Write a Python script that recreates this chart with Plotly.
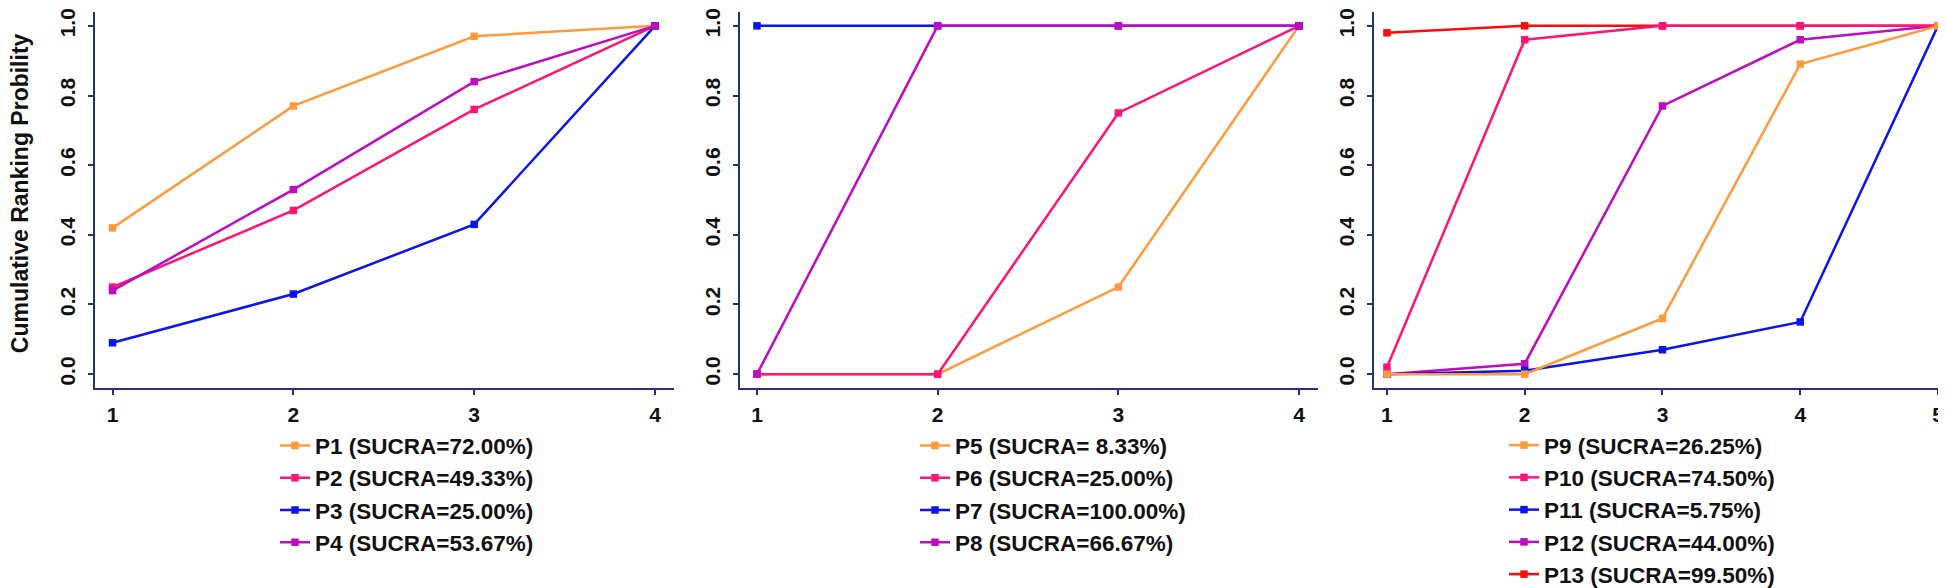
import plotly.graph_objects as go

# ---- data ----
ranks_a = [1, 2, 3, 4]
ranks_b = [1, 2, 3, 4]
ranks_c = [1, 2, 3, 4, 5]

names_a = ["P1 (SUCRA=72.00%)", "P2 (SUCRA=49.33%)", "P3 (SUCRA=25.00%)", "P4 (SUCRA=53.67%)"]
names_b = ["P5 (SUCRA= 8.33%)", "P6 (SUCRA=25.00%)", "P7 (SUCRA=100.00%)", "P8 (SUCRA=66.67%)"]
names_c = ["P9 (SUCRA=26.25%)", "P10 (SUCRA=74.50%)", "P11 (SUCRA=5.75%)",
           "P12 (SUCRA=44.00%)", "P13 (SUCRA=99.50%)"]

p1 = [0.42, 0.77, 0.97, 1.00]
p2 = [0.25, 0.47, 0.76, 1.00]
p3 = [0.09, 0.23, 0.43, 1.00]
p4 = [0.24, 0.53, 0.84, 1.00]

p5 = [0.00, 0.00, 0.25, 1.00]
p6 = [0.00, 0.00, 0.75, 1.00]
p7 = [1.00, 1.00, 1.00, 1.00]
p8 = [0.00, 1.00, 1.00, 1.00]

p9 = [0.00, 0.00, 0.16, 0.89, 1.00]
p10 = [0.02, 0.96, 1.00, 1.00, 1.00]
p11 = [0.00, 0.01, 0.07, 0.15, 1.00]
p12 = [0.00, 0.03, 0.77, 0.96, 1.00]
p13 = [0.98, 1.00, 1.00, 1.00, 1.00]

y_ticks = [0.0, 0.2, 0.4, 0.6, 0.8, 1.0]
y_title = "Cumulative Ranking Probility"

# ---- style ----
ORANGE = "#FF9A3C"
PINK = "#FF1476"
BLUE = "#0A14F0"
MAGENTA = "#BE0CC0"
RED = "#FF0A0A"
AXIS = "#283278"
FONT = "Liberation Sans, Arial, sans-serif"

W, H = 1946, 588

fig = go.Figure()

def add(xs, ys, name, color, xa, ya, legend, rank):
    fig.add_trace(go.Scatter(
        x=xs, y=ys, name=name, mode="lines+markers",
        line=dict(color=color, width=2.5),
        marker=dict(symbol="square", size=7.5, color=color),
        xaxis=xa, yaxis=ya, legend=legend, legendrank=rank,
    ))

colors4 = [ORANGE, PINK, BLUE, MAGENTA]
for i, (ys, nm) in enumerate(zip([p1, p2, p3, p4], names_a)):
    add(ranks_a, ys, nm, colors4[i], "x", "y", "legend", i + 1)
for i, (ys, nm) in enumerate(zip([p5, p6, p7, p8], names_b)):
    add(ranks_b, ys, nm, colors4[i], "x2", "y2", "legend2", i + 1)
colors5 = [ORANGE, PINK, BLUE, MAGENTA, RED]
series_c = [p9, p10, p11, p12, p13]
for i in reversed(range(5)):
    add(ranks_c, series_c[i], names_c[i], colors5[i], "x3", "y3", "legend3", i + 1)

ydom = [(H - 388) / H, (H - 4) / H]
xdoms = [[87 / W, 666 / W], [732 / W, 1310 / W], [1366 / W, 1945 / W]]
xranges = [[0.903, 4.105], [0.906, 4.105], [0.906, 5.109]]
xticks = [ranks_a, ranks_b, ranks_c]

tickfont = dict(family=FONT, size=21, color="#111111", weight="bold")
layout = dict(
    width=W, height=H,
    margin=dict(l=0, r=0, t=0, b=0),
    paper_bgcolor="white", plot_bgcolor="white",
    font=dict(family=FONT, size=20, color="#111111"),
)
for k in range(3):
    sx = "" if k == 0 else str(k + 1)
    layout["xaxis" + sx] = dict(
        domain=xdoms[k], range=xranges[k], anchor="y" + sx,
        tickmode="array", tickvals=xticks[k], ticktext=[str(v) for v in xticks[k]],
        showline=True, linecolor=AXIS, linewidth=2, mirror=False,
        ticks="outside", ticklen=5, tickwidth=1.5, tickcolor=AXIS,
        showgrid=False, zeroline=False, tickfont=tickfont, automargin=False,
        ticklabeloverflow="allow", ticklabelstandoff=2,
    )
    layout["yaxis" + sx] = dict(
        domain=ydom, range=[-0.04, 1.04], anchor="x" + sx,
        tickmode="array", tickvals=y_ticks, ticktext=[f"{v:.1f}" for v in y_ticks],
        tickangle=-90,
        showline=True, linecolor=AXIS, linewidth=2, mirror=False,
        ticks="outside", ticklen=5, tickwidth=1.5, tickcolor=AXIS,
        showgrid=False, zeroline=False, tickfont=tickfont, automargin=False,
        ticklabeloverflow="allow", ticklabelstandoff=5,
    )

legfont = dict(family=FONT, size=22.5, color="#111111", weight="bold")
leg_common = dict(font=legfont, bgcolor="rgba(0,0,0,0)", itemwidth=30,
                  tracegroupgap=0, xanchor="left", yanchor="top",
                  itemclick=False, itemdoubleclick=False)
leg_top = (H - 425) / H
layout["legend"] = dict(x=267 / W, y=leg_top, **leg_common)
layout["legend2"] = dict(x=907 / W, y=leg_top, **leg_common)
layout["legend3"] = dict(x=1496 / W, y=leg_top, **leg_common)
layout["showlegend"] = True

layout["annotations"] = [dict(
    text=y_title, textangle=-90, x=12 / W, y=(H - 189) / H,
    xref="paper", yref="paper", showarrow=False,
    font=dict(family=FONT, size=23, color="#111111", weight="bold"),
    xanchor="center", yanchor="middle",
)]

fig.update_layout(**layout)
fig.write_html("out.html")
